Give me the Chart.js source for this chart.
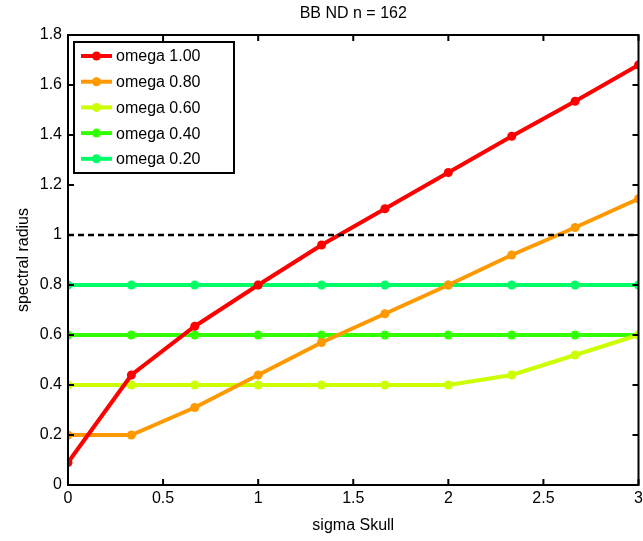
<!DOCTYPE html>
<html>
<head>
<meta charset="utf-8">
<script src="https://cdn.jsdelivr.net/npm/chart.js"></script>
<style>
  html, body { margin: 0; padding: 0; background: #fff; }
  #wrap { width: 643px; height: 541px; }
</style>
</head>
<body>
<div id="wrap"><canvas id="chart" width="643" height="541"></canvas></div>
<script>
// sigma values along the x axis
const sigma = [0, 0.3333, 0.6667, 1, 1.3333, 1.6667, 2, 2.3333, 2.6667, 3];

// spectral radius per omega
const omega100 = [0.09, 0.44, 0.635, 0.80, 0.96, 1.105, 1.25, 1.395, 1.535, 1.68];
const omega080 = [0.20, 0.20, 0.31, 0.44, 0.57, 0.685, 0.80, 0.92, 1.03, 1.145];
const omega060 = [0.40, 0.40, 0.40, 0.40, 0.40, 0.40, 0.40, 0.44, 0.52, 0.60];
const omega040 = [0.60, 0.60, 0.60, 0.60, 0.60, 0.60, 0.60, 0.60, 0.60, 0.60];
const omega020 = [0.80, 0.80, 0.80, 0.80, 0.80, 0.80, 0.80, 0.80, 0.80, 0.80];
const unitLine = [1, 1];
const unitX = [0, 3];

const labels = ['omega 1.00', 'omega 0.80', 'omega 0.60', 'omega 0.40', 'omega 0.20'];
const colors = ['#ff0000', '#ff9900', '#ccff00', '#33ff00', '#00ff66'];
const yTicks = [0, 0.2, 0.4, 0.6, 0.8, 1, 1.2, 1.4, 1.6, 1.8];
const xTicks = [0, 0.5, 1, 1.5, 2, 2.5, 3];

const FONT = 'Liberation Sans, Arial, Helvetica, sans-serif';

function toPoints(xs, ys) {
    return xs.map((x, i) => ({ x: x, y: ys[i] }));
}

const series = [omega100, omega080, omega060, omega040, omega020];
const datasets = series.map((ys, i) => ({
    label: labels[i],
    data: toPoints(sigma, ys),
    borderColor: colors[i],
    backgroundColor: colors[i],
    borderWidth: 4,
    pointRadius: 4.5,
    pointHoverRadius: 4.5,
    pointBorderWidth: 0,
    tension: 0
}));
// dashed reference line at 1
datasets.unshift({
    label: '',
    data: toPoints(unitX, unitLine),
    borderColor: '#000',
    borderWidth: 2.5,
    borderDash: [6, 4],
    pointRadius: 0,
    tension: 0
});

// frame, inward ticks, title and legend box like the matlab figure
const matlabLook = {
    id: 'matlabLook',
    afterDraw(chart) {
        const ctx = chart.ctx;
        const a = chart.chartArea;
        const xs = chart.scales.x, ys = chart.scales.y;
        ctx.save();
        ctx.strokeStyle = '#000';
        ctx.lineWidth = 2;
        ctx.strokeRect(a.left, a.top, a.right - a.left, a.bottom - a.top);
        ctx.beginPath();
        xTicks.forEach(v => {
            const px = xs.getPixelForValue(v);
            ctx.moveTo(px, a.bottom); ctx.lineTo(px, a.bottom - 6);
            ctx.moveTo(px, a.top); ctx.lineTo(px, a.top + 6);
        });
        yTicks.forEach(v => {
            const py = ys.getPixelForValue(v);
            ctx.moveTo(a.left, py); ctx.lineTo(a.left + 6, py);
            ctx.moveTo(a.right, py); ctx.lineTo(a.right - 6, py);
        });
        ctx.stroke();

        // title
        ctx.fillStyle = '#000';
        ctx.font = '16px ' + FONT;
        ctx.textAlign = 'center';
        ctx.textBaseline = 'middle';
        ctx.fillText('BB ND n = 162', (a.left + a.right) / 2, 14);

        // legend
        const bx = 74, by = 42, bw = 160, bh = 131;
        ctx.fillStyle = '#fff';
        ctx.fillRect(bx, by, bw, bh);
        ctx.lineWidth = 2;
        ctx.strokeStyle = '#000';
        ctx.strokeRect(bx, by, bw, bh);
        ctx.font = '16px ' + FONT;
        ctx.textAlign = 'left';
        labels.forEach((lab, i) => {
            const cy = by + 14 + i * 25.7;
            ctx.strokeStyle = colors[i];
            ctx.lineWidth = 4;
            ctx.beginPath();
            ctx.moveTo(81, cy); ctx.lineTo(112, cy);
            ctx.stroke();
            ctx.fillStyle = colors[i];
            ctx.beginPath();
            ctx.arc(96.5, cy, 4.5, 0, Math.PI * 2);
            ctx.fill();
            ctx.fillStyle = '#000';
            ctx.fillText(lab, 116, cy + 1);
        });
        ctx.restore();
    }
};

const plainNum = v => String(Math.round(v * 10) / 10);

new Chart(document.getElementById('chart').getContext('2d'), {
    type: 'line',
    data: { datasets: datasets },
    options: {
        responsive: false,
        animation: false,
        events: [],
        layout: { padding: { top: 35, right: 4, left: 0, bottom: 0 } },
        plugins: {
            legend: { display: false },
            tooltip: { enabled: false }
        },
        scales: {
            x: {
                type: 'linear',
                min: 0,
                max: 3,
                afterBuildTicks: s => { s.ticks = xTicks.map(v => ({ value: v })); },
                afterFit: s => { s.height = 56; s.paddingLeft = 0; s.paddingRight = 0; },
                grid: { display: false, drawTicks: false },
                border: { display: false },
                ticks: { color: '#000', font: { family: FONT, size: 16 }, padding: 4, maxRotation: 0, callback: plainNum },
                title: { display: true, text: 'sigma Skull', color: '#000', font: { family: FONT, size: 16 }, padding: { top: 0, bottom: 6 } }
            },
            y: {
                type: 'linear',
                min: 0,
                max: 1.8,
                afterBuildTicks: s => { s.ticks = yTicks.map(v => ({ value: v })); },
                afterFit: s => { s.width = 68; s.paddingTop = 0; s.paddingBottom = 0; },
                grid: { display: false, drawTicks: false },
                border: { display: false },
                ticks: { color: '#000', font: { family: FONT, size: 16 }, padding: 6, callback: plainNum },
                title: { display: true, text: 'spectral radius', color: '#000', font: { family: FONT, size: 16 }, padding: { top: 14, bottom: 0 } }
            }
        }
    },
    plugins: [matlabLook]
});
</script>
</body>
</html>
